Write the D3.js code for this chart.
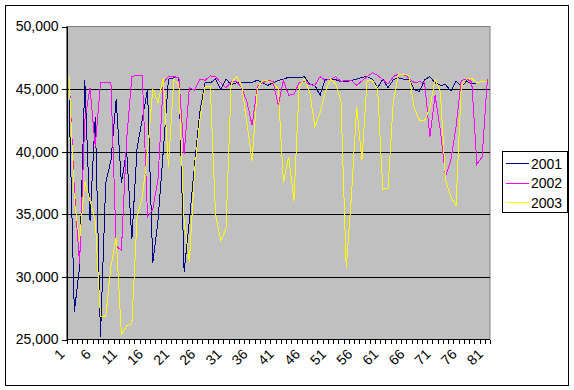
<!DOCTYPE html>
<html>
<head>
<meta charset="utf-8">
<script src="https://cdn.jsdelivr.net/npm/d3@7"></script>
<style>
    body { margin: 0; background: #ffffff; }
    text { font-family: "Liberation Sans", Arial, sans-serif; }
</style>
</head>
<body>
<div id="chart-area"></div>
<script>
/*
*    main.js
*/

// categories 1..81
var categories = d3.range(1, 82);

var series2001 = [44100, 27200, 30800, 45700, 34500, 42800, 25200, 37500, 39300, 44200,
    37500, 40100, 33000, 40300, 42600, 45000, 31100, 34500, 40000, 45800,
    45900, 45900, 30400, 34500, 39000, 43200, 45500, 45500, 45800, 45000,
    45800, 45350, 45500, 45500, 45500, 45550, 45700, 45500, 45300, 45500,
    45700, 45800, 45950, 45900, 45900, 46000, 45400, 45300, 44500, 45800,
    45800, 45750, 45600, 45600, 45700, 45800, 45950, 46000, 45800, 45100,
    45800, 45100, 45750, 45900, 45800, 45800, 44950, 44800, 45750, 46000,
    45500, 45300, 45350, 44850, 45650, 45200, 45650, 45400, 45500, 45600, 45650];

var series2002 = [46000, 37000, 31000, 42500, 45100, 40400, 45500, 45500, 45500, 32500,
    32100, 41000, 46000, 46100, 46100, 34800, 35400, 37800, 45500, 46000,
    46000, 45900, 39800, 45100, 44900, 45800, 45700, 46050, 46000, 45500,
    45100, 45600, 45600, 45100, 44000, 42100, 45200, 45500, 45700, 45600,
    43700, 45700, 44500, 44600, 45500, 45600, 45350, 45300, 46000, 45700,
    45800, 46000, 45600, 45700, 45700, 45300, 45650, 46000, 46300, 46100,
    45750, 45400, 46000, 46200, 46150, 45900, 45500, 45600, 45500, 41200,
    44500, 41700, 38000, 39300, 42000, 45700, 45800, 45600, 39000, 39600, 45800];

var series2003 = [46000, 36100, 32900, 37600, 36100, 34500, 26800, 26800, 30800, 33200,
    25400, 26100, 26250, 34800, 36400, 39900, 45000, 43900, 45900, 38800,
    45750, 45300, 34500, 31200, 38500, 42500, 45200, 45200, 35000, 32900,
    33800, 45500, 46000, 45300, 42300, 39300, 45000, 45700, 45650, 45500,
    45000, 37500, 39600, 36100, 45200, 45800, 44800, 42000, 43100, 44800,
    45800, 45400, 44000, 30700, 36500, 43600, 39300, 45700, 45700, 45000,
    37000, 37100, 44000, 46200, 46200, 46100, 43500, 42500, 42500, 43500,
    45800, 44800, 37700, 36400, 35700, 45200, 45800, 45850, 45500, 45600, 45650];

var seriesNames = ["2001", "2002", "2003"];
var seriesColors = ["#000080", "#ff00ff", "#ffff00"];

var yTicks = [25000, 30000, 35000, 40000, 45000, 50000];
var xLabels = [1, 6, 11, 16, 21, 26, 31, 36, 41, 46, 51, 56, 61, 66, 71, 76, 81];

var width = 574;
var height = 390;

var plot = { left: 66.5, right: 490, top: 26.5, bottom: 339.5 };

var svg = d3.select("#chart-area").append("svg")
    .attr("width", width)
    .attr("height", height);

// outer chart border
svg.append("rect")
    .attr("x", 5.5).attr("y", 5.5)
    .attr("width", 563).attr("height", 380)
    .attr("fill", "#ffffff")
    .attr("stroke", "#000000");

var x = d3.scaleBand()
    .domain(categories)
    .range([plot.left, plot.right]);

var y = d3.scaleLinear()
    .domain([25000, 50000])
    .range([plot.bottom, plot.top]);

// plot area
svg.append("rect")
    .attr("x", plot.left)
    .attr("y", plot.top)
    .attr("width", plot.right - plot.left)
    .attr("height", plot.bottom - plot.top)
    .attr("fill", "#c0c0c0")
    .attr("stroke", "#808080");

// gridlines
var gridAxis = d3.axisLeft(y)
    .tickValues(yTicks.slice(1, -1))
    .tickSize(-(plot.right - plot.left))
    .tickFormat("");
svg.append("g")
    .attr("class", "grid")
    .attr("transform", "translate(" + plot.left + ",0)")
    .call(gridAxis)
    .call(g => g.select(".domain").remove())
    .selectAll("line")
        .attr("stroke", "#000000")
        .attr("shape-rendering", "crispEdges");

// lines (aliased, like the original)
var allSeries = [series2001, series2002, series2003];
var line = d3.line()
    .x((d, i) => x(categories[i]) + x.bandwidth() / 2)
    .y((d) => y(d));

svg.selectAll("path.series")
    .data(allSeries)
    .enter()
    .append("path")
    .attr("class", "series")
    .attr("d", (d) => line(d))
    .attr("fill", "none")
    .attr("stroke", (d, i) => seriesColors[i])
    .attr("stroke-width", 1)
    .attr("shape-rendering", "crispEdges");

// left axis
var leftAxis = d3.axisLeft(y)
    .tickValues(yTicks)
    .tickSize(5)
    .tickPadding(3)
    .tickFormat(d3.format(","));
svg.append("g")
    .attr("class", "left axis")
    .attr("transform", "translate(" + plot.left + ",0)")
    .call(leftAxis)
    .call(g => g.selectAll("line, path").attr("stroke", "#000000").attr("shape-rendering", "crispEdges"))
    .selectAll("text")
        .attr("font-size", "14px")
        .attr("fill", "#000000");

// bottom axis line + tick marks between categories
var bounds = categories.map((c) => x(c)).concat([plot.right]);
var bottom = svg.append("g").attr("class", "bottom axis");
bottom.append("line")
    .attr("x1", plot.left).attr("x2", plot.right)
    .attr("y1", plot.bottom).attr("y2", plot.bottom)
    .attr("stroke", "#000000")
    .attr("shape-rendering", "crispEdges");
bottom.selectAll("line.tick")
    .data(bounds)
    .enter()
    .append("line")
    .attr("class", "tick")
    .attr("x1", (d) => Math.round(d) + 0.5).attr("x2", (d) => Math.round(d) + 0.5)
    .attr("y1", plot.bottom).attr("y2", plot.bottom + 4)
    .attr("stroke", "#000000")
    .attr("shape-rendering", "crispEdges");

bottom.selectAll("text")
    .data(xLabels)
    .enter()
    .append("text")
    .attr("transform", (d) => "translate(" + (x(d) + x.bandwidth() / 2 - 3.5) + "," + 355 + ") rotate(-45)")
    .attr("text-anchor", "end")
    .attr("font-size", "14px")
    .attr("fill", "#000000")
    .text((d) => d);

// legend
var legend = svg.append("g").attr("class", "legend");
legend.append("rect")
    .attr("x", 502.5).attr("y", 151.5)
    .attr("width", 65).attr("height", 61)
    .attr("fill", "#ffffff")
    .attr("stroke", "#000000");

var items = legend.selectAll("g.item")
    .data(seriesNames)
    .enter()
    .append("g")
    .attr("class", "item")
    .attr("transform", (d, i) => "translate(0," + (163.5 + i * 19.5) + ")");
items.append("line")
    .attr("x1", 506).attr("x2", 529)
    .attr("y1", 0).attr("y2", 0)
    .attr("stroke", (d, i) => seriesColors[i])
    .attr("stroke-width", 1)
    .attr("shape-rendering", "crispEdges");
items.append("text")
    .attr("x", 531)
    .attr("y", 5)
    .attr("font-size", "14px")
    .attr("fill", "#000000")
    .text((d) => d);
</script>
</body>
</html>
